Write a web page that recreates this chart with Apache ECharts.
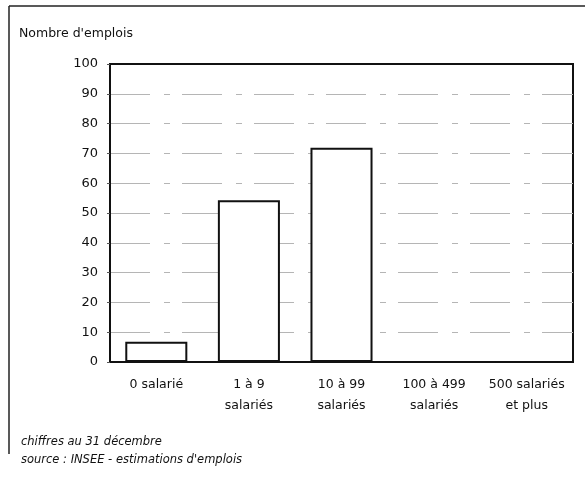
<!DOCTYPE html>
<html>
<head>
<meta charset="utf-8">
<script src="https://cdn.jsdelivr.net/npm/echarts@6/dist/echarts.min.js"></script>
<style>
html,body{margin:0;padding:0;background:#fff;}
#c{width:585px;height:481px;}
</style>
</head>
<body>
<div id="c"></div>
<script>
const categories = ['0 salarié', '1 à 9\nsalariés', '10 à 99\nsalariés', '100 à 499\nsalariés', '500 salariés\net plus'];
const values = [6.8, 54.3, 71.9, 0, 0];
const yTicks = { min: 0, max: 100, interval: 10 };
const yTitle = "Nombre d'emplois";
const notes = ['chiffres au 31 décembre', "source : INSEE - estimations d'emplois"];

const FONT = 'DejaVu Sans';
const chart = echarts.init(document.getElementById('c'), null, { renderer: 'canvas' });
chart.setOption({
  backgroundColor: '#fff',
  animation: false,
  grid: { left: 110, right: 12, top: 64, bottom: 119, show: true, borderColor: '#111', borderWidth: 2, backgroundColor: 'transparent' },
  title: [
    { text: yTitle, left: 14, top: 22, textStyle: { fontFamily: FONT, fontSize: 12.5, fontWeight: 'normal', color: '#111' } },
    { text: notes[0], left: 16, top: 431, textStyle: { fontFamily: FONT, fontSize: 11.5, fontStyle: 'italic', fontWeight: 'normal', color: '#111' } },
    { text: notes[1], left: 16, top: 449, textStyle: { fontFamily: FONT, fontSize: 11.5, fontStyle: 'italic', fontWeight: 'normal', color: '#111' } }
  ],
  graphic: [
    { type: 'line', shape: { x1: 9, y1: 6, x2: 585, y2: 6 }, style: { stroke: '#222', lineWidth: 1.5 } },
    { type: 'line', shape: { x1: 9, y1: 6, x2: 9, y2: 454 }, style: { stroke: '#222', lineWidth: 1.5 } }
  ],
  xAxis: {
    type: 'category',
    data: categories,
    axisLine: { show: true, lineStyle: { color: '#111', width: 2 } },
    axisTick: { show: false },
    axisLabel: { fontFamily: FONT, fontSize: 12.5, color: '#111', margin: 12, lineHeight: 21, interval: 0 },
    splitLine: { show: false }
  },
  yAxis: {
    type: 'value',
    min: yTicks.min, max: yTicks.max, interval: yTicks.interval,
    axisLine: { show: true, lineStyle: { color: '#111', width: 2 } },
    axisTick: { show: true, length: 3, lineStyle: { color: '#555' } },
    axisLabel: { fontFamily: FONT, fontSize: 13, color: '#111', margin: 12 },
    splitLine: { show: true, showMinLine: false, showMaxLine: false, lineStyle: { color: '#b5b5b5', width: 1, type: [40, 14, 6, 12] } }
  },
  series: [{
    type: 'bar',
    data: values,
    barWidth: '67%',
    itemStyle: { color: '#fff', borderColor: '#111', borderWidth: 2 }
  }]
});
</script>
</body>
</html>
